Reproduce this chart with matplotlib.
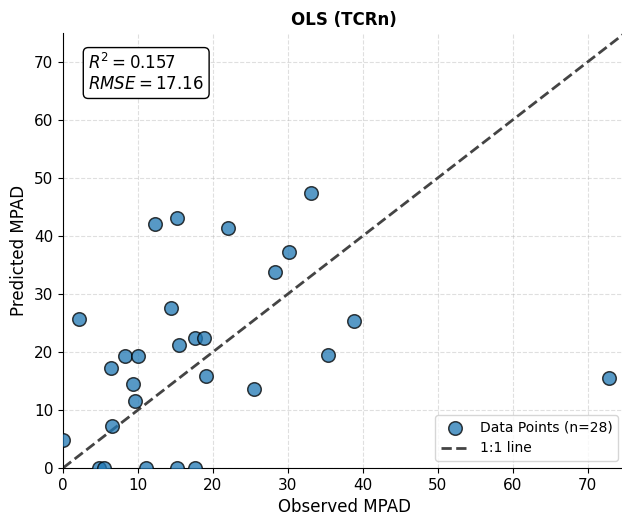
import numpy as np
import matplotlib.pyplot as plt

# observed vs predicted MPAD
observed = [0.0, 2.1, 4.8, 5.5, 6.4, 6.5, 8.3, 10.0, 9.3, 9.6, 11.1, 12.3, 14.4, 15.2,
            15.2, 15.5, 17.6, 18.8, 17.6, 19.1, 22.0, 25.5, 28.3, 30.1, 33.1, 35.3, 38.8, 72.9]
predicted = [4.8, 25.7, 0.0, 0.0, 17.2, 7.2, 19.3, 19.3, 14.5, 11.6, 0.0, 42.1, 27.6, 43.1,
             0.0, 21.2, 22.4, 22.4, 0.0, 15.9, 41.4, 13.6, 33.8, 37.2, 47.4, 19.5, 25.3, 15.5]
r2 = 0.157
rmse = 17.16
lim = 75

fig = plt.figure(figsize=(6.22, 5.17), dpi=100)
ax = fig.add_axes([63 / 622, 49 / 517, 562 / 622, 435 / 517])

ax.scatter(observed, predicted, s=95, color='#1f77b4', alpha=0.75,
           edgecolor='black', linewidth=1.1, zorder=3,
           label=f'Data Points (n={len(observed)})')
ax.plot([0, lim], [0, lim], linestyle='--', color='#444444', linewidth=2, label='1:1 line', zorder=2)

ax.set_xlim(0, lim)
ax.set_ylim(0, lim)
ax.set_xlabel('Observed MPAD', fontsize=12)
ax.set_ylabel('Predicted MPAD', fontsize=12)
ax.set_title('OLS (TCRn)', fontsize=12, fontweight='bold')
ax.tick_params(labelsize=11)
ax.grid(True, linestyle='--', alpha=0.4)
ax.spines['top'].set_visible(False)
ax.spines['right'].set_visible(False)

ax.text(0.045, 0.955, f'$R^2 = {r2:.3f}$\n$RMSE = {rmse:.2f}$', transform=ax.transAxes,
        fontsize=12, va='top', ha='left',
        bbox=dict(boxstyle='round', facecolor='white', edgecolor='black'))

ax.legend(loc='lower right', fontsize=10)

fig.savefig('out.png', dpi=100)
